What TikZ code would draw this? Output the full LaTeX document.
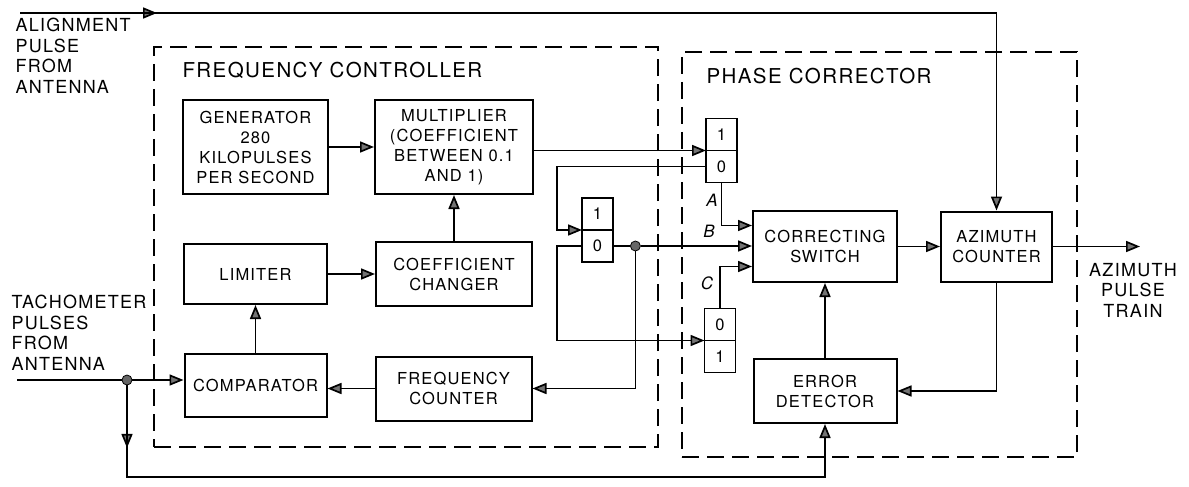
\documentclass[tikz,border=0pt]{standalone}
\usepackage{fontspec}
\setsansfont{TeX Gyre Heros}[LetterSpace=7]
\usetikzlibrary{arrows.meta, positioning, calc}

\begin{document}
\begin{tikzpicture}[
  x=1pt, y=-1pt,
  box/.style={draw, line width=2pt, align=center, inner sep=2pt,
              font=\sffamily\fontsize{16.5}{20}\selectfont},
  cell/.style={draw, line width=1.8pt, minimum width=31pt, minimum height=32pt,
               inner sep=0pt, outer sep=0pt, font=\sffamily\fontsize{16.5}{20}\selectfont},
  group/.style={draw, line width=1.8pt, dash pattern=on 17pt off 8pt},
  arr/.style={-{Triangle[length=14pt, width=11pt, fill=black!55]}, line width=1.7pt},
  wire/.style={line width=1.7pt},
  dot/.style={circle, draw, fill=black!60, line width=0.8pt, inner sep=0pt, minimum size=10pt},
  lbl/.style={align=left, font=\sffamily\fontsize{18}{20.5}\selectfont},
  title/.style={anchor=west, font=\sffamily\fontsize{20.5}{24}\selectfont},
  tag/.style={font=\sffamily\itshape\fontsize{17}{20}\selectfont}
]
  \useasboundingbox (0,0) rectangle (1189,487);

  % Frequency controller
  \node[group, minimum width=504pt, minimum height=400pt] (fctl) at (406,247) {};
  \node[title] (fctlt) at (179,70) {FREQUENCY CONTROLLER};

  \node[box, minimum width=145pt, minimum height=94pt] (gen) at (255.5,147)
       {GENERATOR\\280\\KILOPULSES\\PER SECOND};
  \node[box, minimum width=158pt, minimum height=94pt, right=45pt of gen]
       (mult) {MULTIPLIER\\(COEFFICIENT\\BETWEEN 0.1\\AND 1)};
  \node[box, minimum width=143pt, minimum height=60pt, below=48pt of gen]
       (lim) {LIMITER};
  \node[box, minimum width=156pt, minimum height=64pt, right=47pt of lim]
       (coef) {COEFFICIENT\\CHANGER};
  \node[box, minimum width=142pt, minimum height=63pt, below=48pt of lim]
       (comp) {COMPARATOR};
  \node[box, minimum width=156pt, minimum height=64pt, right=47pt of comp,
        yshift=-3pt] (fcnt) {FREQUENCY\\COUNTER};

  \draw[arr] (gen) -- (mult);
  \draw[arr] (lim) -- (coef);
  \draw[arr] (coef.north) -- (coef.north |- mult.south);
  \draw[arr] (comp) -- (lim);
  \draw[arr] (fcnt.west) -- (fcnt.west -| comp.east);

  % Phase corrector
  \node[group, minimum width=395pt, minimum height=405pt] (pcor) at (879.5,254.5) {};
  \node[title] (pcort) at (703,76) {PHASE CORRECTOR};

  \node[box, minimum width=144pt, minimum height=71pt] (cs) at (825,246.5)
       {CORRECTING\\SWITCH};
  \node[box, minimum width=111pt, minimum height=70pt, right=42pt of cs]
       (azc) {AZIMUTH\\COUNTER};
  \node[box, minimum width=143pt, minimum height=64pt, below=75pt of cs]
       (err) {ERROR\\DETECTOR};

  % flip-flops
  \node[cell] (ff1a) at (721.5,134.5) {1};
  \node[cell, below=0pt of ff1a] (ff1b) {0};
  \node[cell] (ff2a) at (597.5,214) {1};
  \node[cell, below=0pt of ff2a] (ff2b) {0};
  \node[cell] (ff3a) at (720,324.5) {0};
  \node[cell, below=0pt of ff3a] (ff3b) {1};

  \node[dot, right=17pt of ff2b] (j2) {};
  \coordinate (k1) at (557,0);

  \draw[arr] (mult.east |- ff1a.south west) -- (ff1a.south west);
  \draw[arr] (ff1b.west) -- (ff1b.west -| k1) |- (ff2a.south west);
  \draw[arr] (ff2b.west) -- (ff2b.west -| k1) |- (ff3a.south west);
  \draw[wire] (ff2b.east) -- (j2);
  \draw[arr] (j2) -- (j2 -| cs.west);
  \draw[arr] (j2) |- (fcnt.east);
  \draw[arr] (ff1b.south) |- ([yshift=21pt]cs.west);
  \draw[arr] (ff3a.north) |- ([yshift=-20pt]cs.west);

  \node[tag] (ta) at (712,200) {A};
  \node[tag] (tb) at (709,231) {B};
  \node[tag] (tc) at (707,283) {C};

  \draw[arr] (cs.east) -- (cs.east -| azc.west);
  \draw[arr] (azc.south) |- (err.east);
  \draw[arr] (err.north) -- (err.north |- cs.south);

  % Inputs and output
  \node[lbl, anchor=west] (alab) at (12,56) {ALIGNMENT\\PULSE\\FROM\\ANTENNA};
  \coordinate (alin) at (20,13);
  \coordinate (almid) at (157,13);
  \draw[arr] (alin) -- (almid);
  \draw[arr] (alin) -| (azc.north);

  \node[lbl, anchor=west] (tlab) at (8,333) {TACHOMETER\\PULSES\\FROM\\ANTENNA};
  \coordinate (tain) at (17,380);
  \node[dot] (j1) at (127,380) {};
  \coordinate (kb) at (127,477);
  \draw[wire] (tain) -- (j1);
  \draw[arr] (j1) -- (j1 -| comp.west);
  \draw[arr] (j1) -- ($(j1)!0.7!(kb)$);
  \draw[arr] (j1) -- (kb) -| (err.south);

  \coordinate (azout) at (1140,0);
  \draw[arr] (azc.east) -- (azc.east -| azout);
  \node[lbl, align=center] (olab) at (1133,290) {AZIMUTH\\PULSE\\TRAIN};
\end{tikzpicture}
\end{document}
